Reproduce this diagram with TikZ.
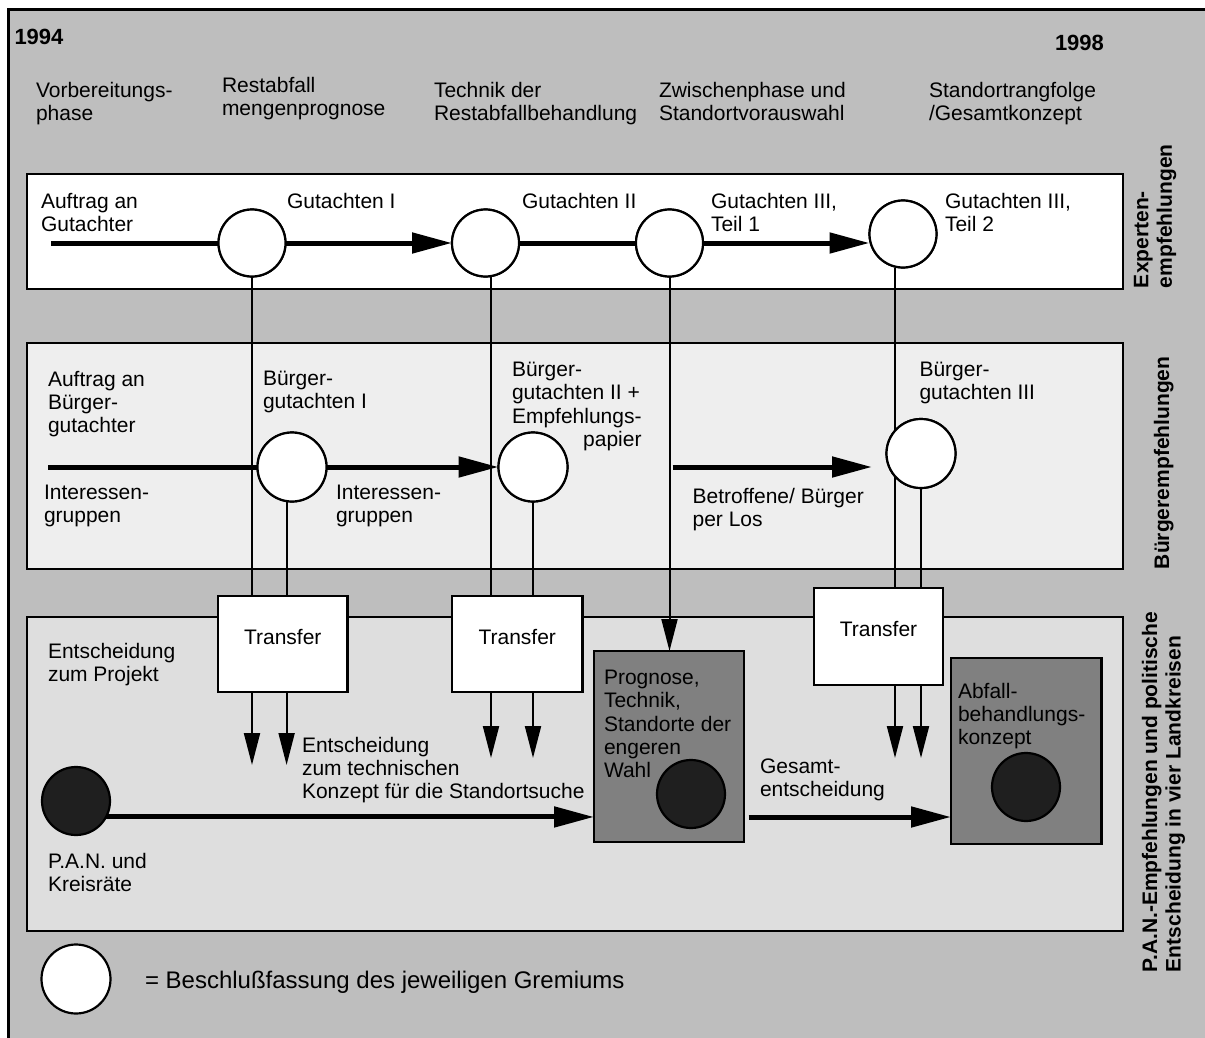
\documentclass[tikz,border=0pt]{standalone}
\usepackage{fontspec}
\usepackage{calc}
\setmainfont{Liberation Sans}
\usetikzlibrary{arrows.meta}

\definecolor{bggray}{gray}{0.745}
\definecolor{citizengray}{gray}{0.933}
\definecolor{pangray}{gray}{0.871}
\definecolor{resultgray}{gray}{0.5}
\definecolor{dotgray}{gray}{0.12}

\begin{document}
\begin{tikzpicture}[x=1pt,y=-1pt,
  every node/.style={inner sep=0pt, outer sep=0pt},
  txt/.style={anchor=north west, align=left, font=\fontsize{21}{23.3}\selectfont},
  vtxt/.style={anchor=north west, align=left, rotate=90, font=\fontsize{21}{23.5}\selectfont\bfseries},
  yearlbl/.style={anchor=north west, font=\fontsize{22}{24}\selectfont\bfseries},
  panel/.style={draw=black, line width=2.5pt},
  gremium/.style={circle, draw=black, line width=2.2pt, fill=white, minimum size=67pt},
  darkdot/.style={circle, draw=black, line width=2.2pt, fill=dotgray, minimum size=68pt},
  tbox/.style={draw=black, line width=2.5pt, fill=white, text height=15pt, text depth=15pt,
               font=\fontsize{21}{23.3}\selectfont},
  resultbox/.style={draw=black, line width=2.5pt, fill=resultgray},
  thickln/.style={line width=5pt},
  harrow/.style={line width=5pt, -{Triangle[length=40pt,width=20pt]}},
  vline/.style={line width=2pt},
  varrow/.style={line width=2pt, -{Triangle[length=32pt,width=16pt]}}
]
\useasboundingbox (0,0) rectangle (1205,1038);
\fill[white] (0,0) rectangle (1205,1038);
% outer frame
\draw[line width=3pt, fill=bggray] (8,10) rectangle (1222,1052);

% three lanes
\draw[panel, fill=white] (27,174) rectangle (1123,289);
\draw[panel, fill=citizengray] (27,343) rectangle (1123,569);
\draw[panel, fill=pangray] (27,617) rectangle (1123,931);

% transfer boxes and result boxes
\node[tbox, minimum width=129.5pt, minimum height=96pt] (T1) at (282.75,644) {Transfer};
\node[tbox, minimum width=130.5pt, minimum height=96pt] (T2) at (517.25,644) {Transfer};
\node[tbox, minimum width=129pt, minimum height=97pt] (T3) at (878.5,636.5) {Transfer};
\node[resultbox, minimum width=150pt, minimum height=191pt] (Prog) at (669,746.5) {};
\node[resultbox, minimum width=150.5pt, minimum height=186pt] (Abf) at (1026.25,751) {};

% decision circles
\node[gremium] (E1) at (252,243) {};
\node[gremium] (E2) at (485.5,243) {};
\node[gremium] (E3) at (669.5,243) {};
\node[gremium] (E4) at (903,234) {};
\node[gremium, minimum size=69pt] (B1) at (292,467) {};
\node[gremium, minimum size=69pt] (B2) at (533,467) {};
\node[gremium, minimum size=69pt] (B3) at (921,453.5) {};
\node[darkdot] (P) at (76,801) {};
\node[darkdot] (PrC) at (691,794) {};
\node[darkdot] (AbC) at (1026,787) {};
\node[gremium, minimum size=69pt] (L) at (76,979) {};

% free ends of the lane arrows
\coordinate (estart) at (51,243);
\coordinate (bstart) at (48,467);
\coordinate (bmid) at (672.5,467);
\coordinate (bend) at (872,467);
\coordinate (gstart) at (748.5,817);

% expert lane
\draw[thickln] (estart) -- (E1);
\draw[harrow] (E1) -- (E2);
\draw[thickln] (E2) -- (E3);
\draw[harrow] (E3.east) -- (E3.east -| E4.west);

% citizen lane
\draw[thickln] (bstart) -- (B1);
\draw[harrow] (B1) -- (B2);
\draw[harrow] (bmid) -- (bend);

% decision lane
\draw[harrow] (P.-28) -- (P.-28 -| Prog.west);
\draw[harrow] (gstart) -- (gstart -| Abf.west);

% reports handed down to the transfer boxes
\draw[vline] (E1.south) -- (E1.south |- T1.north);
\draw[vline] ([xshift=-5.4pt]B1.south) -- ([xshift=-5.4pt]B1.south |- T1.north);
\draw[vline] ([xshift=5.5pt]E2.south) -- ([xshift=5.5pt]E2.south |- T2.north);
\draw[vline] (B2.south) -- (B2.south |- T2.north);
\draw[varrow] (E3.south) -- (E3.south |- Prog.north);
\draw[vline] ([xshift=-8pt]E4.south) -- ([xshift=-8pt]E4.south |- T3.north);
\draw[vline] (B3.south) -- (B3.south |- T3.north);

% transfer outputs
\draw[varrow] (E1.south |- T1.south) -- ++(0,73);
\draw[varrow] ([xshift=-5.4pt]B1.south |- T1.south) -- ++(0,73);
\draw[varrow] ([xshift=5.5pt]E2.south |- T2.south) -- ++(0,66);
\draw[varrow] (B2.south |- T2.south) -- ++(0,66);
\draw[varrow] ([xshift=-8pt]E4.south |- T3.south) -- ++(0,73);
\draw[varrow] (B3.south |- T3.south) -- ++(0,73);

% redraw circles above the lines
\node[gremium] at (E1) {};
\node[gremium] at (E2) {};
\node[gremium] at (E3) {};
\node[gremium] at (E4) {};
\node[gremium, minimum size=69pt] at (B1) {};
\node[gremium, minimum size=69pt] at (B2) {};
\node[gremium, minimum size=69pt] at (B3) {};

% years and phases
\node[yearlbl] (y1) at (14.5,29) {1994};
\node[yearlbl] (y2) at (1055,35) {1998};
\node[txt] (ph1) at (36,82) {Vorbereitungs-\\phase};
\node[txt] (ph2) at (222,77) {Restabfall\\mengenprognose};
\node[txt] (ph3) at (434,82) {Technik der\\Restabfallbehandlung};
\node[txt] (ph4) at (659,82) {Zwischenphase und\\Standortvorauswahl};
\node[txt] (ph5) at (929,82) {Standortrangfolge\\/Gesamtkonzept};

% expert lane labels
\node[txt] (e0) at (41,193) {Auftrag an\\Gutachter};
\node[txt] (e1) at (287,193) {Gutachten I};
\node[txt] (e2) at (522,193) {Gutachten II};
\node[txt] (e3) at (711,193) {Gutachten III,\\Teil 1};
\node[txt] (e4) at (945,193) {Gutachten III,\\Teil 2};

% citizen lane labels
\node[txt] (b0) at (48,371) {Auftrag an\\Bürger-\\gutachter};
\node[txt] (b1) at (263,371) {Bürger-\\gutachten I};
\node[txt] (b2) at (512,362) {Bürger-\\gutachten II +\\Empfehlungs-\\\makebox[\widthof{Empfehlungs-}][r]{papier}};
\node[txt] (b3) at (919.5,362) {Bürger-\\gutachten III};
\node[txt] (i1) at (44,485) {Interessen-\\gruppen};
\node[txt] (i2) at (336,485) {Interessen-\\gruppen};
\node[txt] (i3) at (692.6,488) {Betroffene/ Bürger\\per Los};

% decision lane labels
\node[txt] (p0) at (48,643) {Entscheidung\\zum Projekt};
\node[txt] (p1) at (302,737) {Entscheidung\\zum technischen\\Konzept für die Standortsuche};
\node[txt] (p2) at (48,853) {P.A.N. und\\Kreisräte};
\node[txt] (p3) at (604,670) {Prognose,\\Technik,\\Standorte der\\engeren\\Wahl};
\node[txt] (p4) at (760,759) {Gesamt-\\entscheidung};
\node[txt] (p5) at (958,683) {Abfall-\\behandlungs-\\konzept};

% legend
\node[txt, font=\fontsize{24}{26}\selectfont] (leg) at (145,971) {= Beschlußfassung des jeweiligen Gremiums};

% lane titles
\node[vtxt] (tE) at (1134,288) {Experten-\\empfehlungen};
\node[vtxt] (tB) at (1154,569) {Bürgerempfehlungen};
\node[vtxt] (tP) at (1142,972) {P.A.N.-Empfehlungen und politische\\Entscheidung in vier Landkreisen};
\end{tikzpicture}
\end{document}
